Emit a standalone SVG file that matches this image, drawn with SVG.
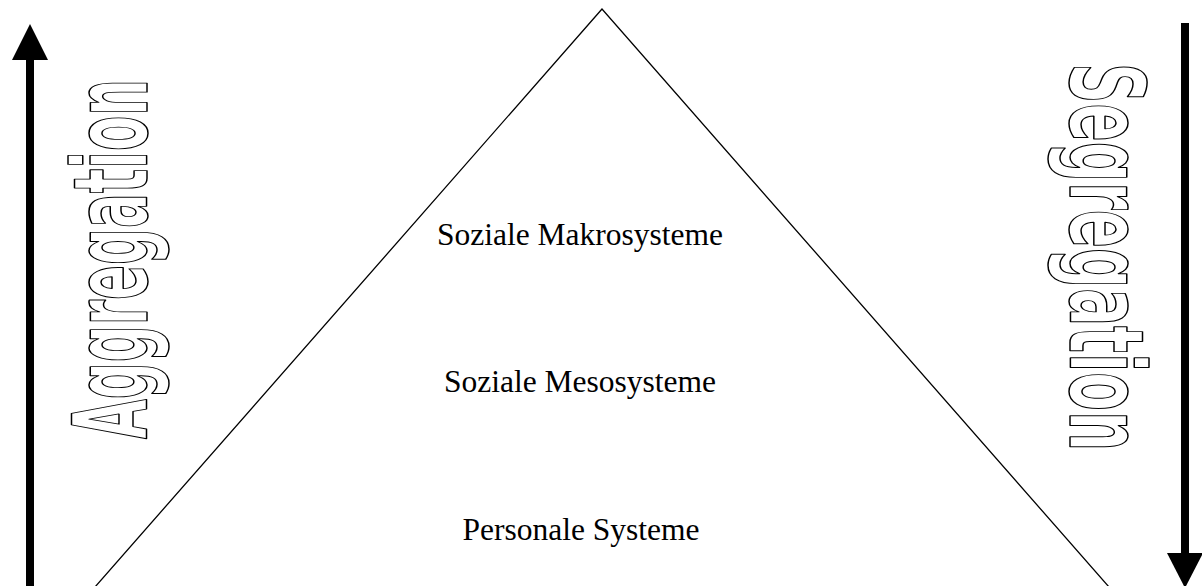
<svg xmlns="http://www.w3.org/2000/svg" width="1202" height="586" viewBox="0 0 1202 586">
<style>
.lbl{font-family:"Liberation Serif","Times New Roman",serif;font-size:31.5px;fill:#000;text-anchor:middle}
.big{font-family:"DejaVu Sans Condensed","DejaVu Sans","Liberation Sans",sans-serif;font-stretch:condensed;font-weight:bold;font-size:104px;fill:#fff;stroke:#000;stroke-width:1.5px;stroke-linejoin:round}
.tri{fill:none;stroke:#000;stroke-width:1.3}
.arr{stroke:#000;stroke-width:8;fill:none}
</style>
<rect width="1202" height="586" fill="#fff"/>
<g id="pyramid">
<polygon class="tri" points="602,9 95,587 1109,587" />
</g>
<g id="connectors">
<g id="arrow-up">
<line class="arr" x1="30" y1="586" x2="30" y2="58"/>
<polygon points="30,24 12,60 48,60" fill="#000"/>
</g>
<g id="arrow-down">
<line class="arr" x1="1185" y1="23" x2="1185" y2="556"/>
<polygon points="1185,588 1167,553 1203,553" fill="#000"/>
</g>
</g>
<g id="label-aggregation">
<text class="big" transform="translate(147,439) rotate(-90)" textLength="360" lengthAdjust="spacingAndGlyphs">Aggregation</text>
</g>
<g id="label-segregation">
<text class="big" transform="translate(1070,63) rotate(90)" textLength="388" lengthAdjust="spacingAndGlyphs">Segregation</text>
</g>
<g id="node-makro">
<text class="lbl" x="580" y="245">Soziale Makrosysteme</text>
</g>
<g id="node-meso">
<text class="lbl" x="580" y="392">Soziale Mesosysteme</text>
</g>
<g id="node-personal">
<text class="lbl" x="581" y="540">Personale Systeme</text>
</g>
</svg>
